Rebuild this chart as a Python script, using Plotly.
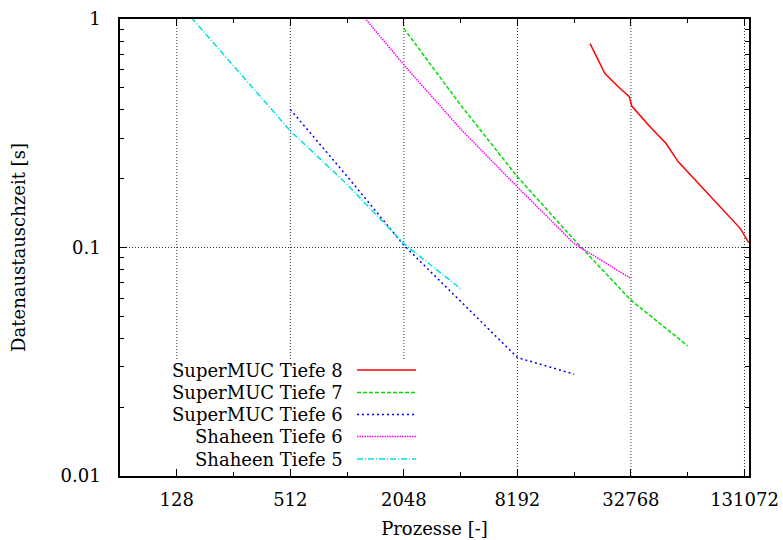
import math
import plotly.graph_objects as go

# ---- data ----
red_x = [19900, 23800, 27800, 32100, 33100, 41000, 50200, 58400, 124700, 138000]
red_y = [0.78, 0.578, 0.509, 0.457, 0.416, 0.340, 0.286, 0.237, 0.121, 0.105]

green_x = [2048, 4096, 8192, 16384, 32768, 65536]
green_y = [0.91, 0.42, 0.204, 0.108, 0.0588, 0.0371]

blue_x = [512, 1024, 2048, 4096, 8192, 16384]
blue_y = [0.402, 0.205, 0.1023, 0.0578, 0.033, 0.0279]

magenta_x = [1024, 2048, 4096, 8192, 16384, 32768]
magenta_y = [1.25, 0.63, 0.33, 0.184, 0.104, 0.0731]

cyan_x = [128, 256, 512, 1024, 2048, 4096]
cyan_y = [1.2, 0.62, 0.324, 0.189, 0.104, 0.066]

names = ["SuperMUC Tiefe 8", "SuperMUC Tiefe 7", "SuperMUC Tiefe 6",
         "Shaheen Tiefe 6", "Shaheen Tiefe 5"]

x_ticks = [128, 512, 2048, 8192, 32768, 131072]
x_tick_labels = ["128", "512", "2048", "8192", "32768", "131072"]
x_minor = [64, 256, 1024, 4096, 16384, 65536]
y_ticks = [0.01, 0.1, 1]
y_tick_labels = ["0.01", "0.1", "1"]
y_minor = [m * 10 ** e for e in (-2, -1) for m in range(2, 10)]

FONT = "DejaVu Serif"
FS = 18

series = [
    (red_x, red_y, "#ff0000", "solid"),
    (green_x, green_y, "#00dd00", "4px,2px"),
    (blue_x, blue_y, "#0000ff", "2px,3px"),
    (magenta_x, magenta_y, "#ff00ff", "1.5px,1px"),
    (cyan_x, cyan_y, "#00e0e0", "6px,2px,1px,2px"),
]

fig = go.Figure()
for (xs, ys, col, dash), nm in zip(series, names):
    fig.add_trace(go.Scatter(x=xs, y=ys, mode="lines", name=nm,
                             line=dict(color=col, width=1.5, dash=dash),
                             showlegend=False, cliponaxis=True))

W, H = 783, 540
ml, mr, mt, mb = 120, 34, 19, 64
pw, ph = W - ml - mr, H - mt - mb

def px_x(p):
    return (p - ml) / pw

def px_y(p):
    return (H - mb - p) / ph

shapes = []
annotations = []

# dotted grid; the key area blanks the lower part of the left grid lines
key_top = px_y(359)
for v in x_ticks:
    y0 = key_top if v <= 2048 else 0
    shapes.append(dict(type="line", xref="x", yref="paper", layer="below",
                       x0=v, x1=v, y0=y0, y1=1,
                       line=dict(color="#333333", width=1, dash="1px,2px")))
shapes.append(dict(type="line", xref="paper", yref="y", layer="below",
                   x0=0, x1=1, y0=0.1, y1=0.1,
                   line=dict(color="#333333", width=1, dash="1px,2px")))

rows = [370, 392.5, 414.5, 436.5, 459]
for (xs, ys, col, dash), nm, ry in zip(series, names, rows):
    annotations.append(dict(xref="paper", yref="paper", x=px_x(345), y=px_y(ry),
                            text=nm, showarrow=False, xanchor="right",
                            yanchor="middle",
                            font=dict(family=FONT, size=FS, color="black")))
    shapes.append(dict(type="line", xref="paper", yref="paper", layer="above",
                       x0=px_x(357), x1=px_x(416), y0=px_y(ry), y1=px_y(ry),
                       line=dict(color=col, width=1.5, dash=dash)))

fig.update_layout(
    width=W, height=H,
    margin=dict(l=ml, r=mr, t=mt, b=mb, pad=0, autoexpand=False),
    paper_bgcolor="white", plot_bgcolor="white",
    font=dict(family=FONT, size=FS, color="black"),
    shapes=shapes, annotations=annotations,
    showlegend=False,
)

fig.update_xaxes(
    type="log", automargin=False,
    range=[math.log10(64), math.log10(138500)],
    tickmode="array", tickvals=x_ticks, ticktext=x_tick_labels,
    ticks="inside", ticklen=7, tickcolor="black", tickwidth=1,
    showline=True, linecolor="black", linewidth=1.5, mirror="allticks",
    showgrid=False, zeroline=False, ticklabelstandoff=7,
    minor=dict(tickmode="array", tickvals=x_minor, ticks="inside", ticklen=4,
               tickcolor="black", showgrid=False),
    title=dict(text="Prozesse [-]", font=dict(family=FONT, size=FS), standoff=13),
    tickfont=dict(family=FONT, size=FS, color="black"),
)
fig.update_yaxes(
    type="log", automargin=False, range=[-2, 0],
    tickmode="array", tickvals=y_ticks, ticktext=y_tick_labels,
    ticks="inside", ticklen=7, tickcolor="black", tickwidth=1,
    showline=True, linecolor="black", linewidth=1.5, mirror="allticks",
    showgrid=False, zeroline=False, ticklabelstandoff=14,
    minor=dict(tickmode="array", tickvals=y_minor, ticks="inside", ticklen=4,
               tickcolor="black", showgrid=False),
    title=dict(text="Datenaustauschzeit [s]", font=dict(family=FONT, size=FS),
               standoff=30),
    tickfont=dict(family=FONT, size=FS, color="black"),
)

fig.write_html("out.html", config={"displayModeBar": False},
               post_script="document.body.style.margin='0';"
                           "document.body.style.padding='0';")
